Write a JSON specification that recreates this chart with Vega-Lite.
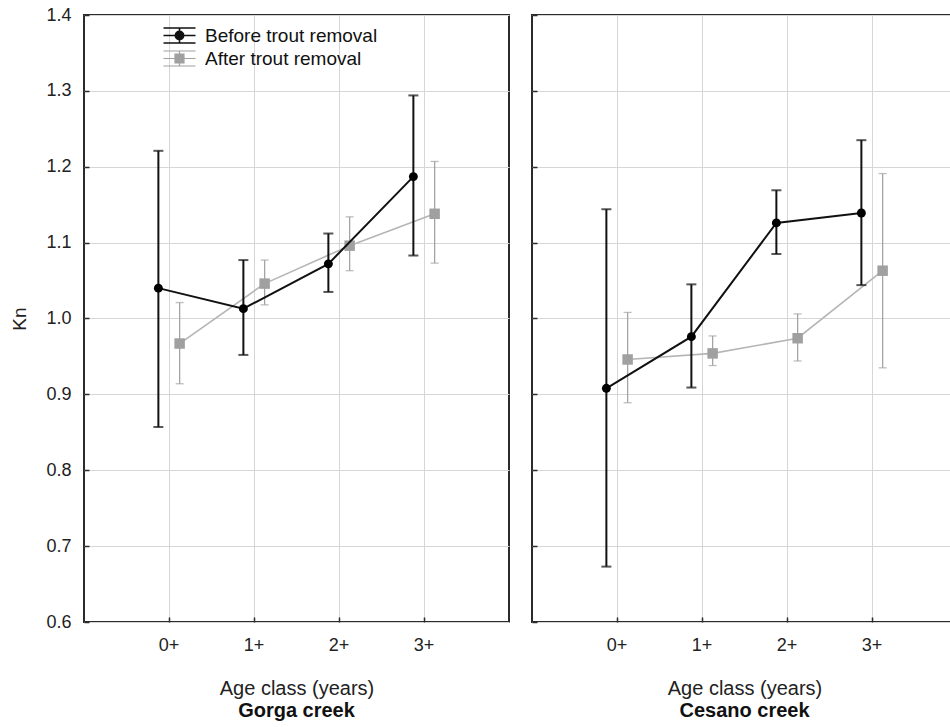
{
  "$schema": "https://vega.github.io/schema/vega-lite/v6.json",
  "padding": {"left": 9, "top": 5, "right": 0, "bottom": 0},
  "background": "white",
  "config": {
    "font": "Liberation Sans",
    "view": {"stroke": "#2b2b2b", "strokeWidth": 2},
    "axis": {"labelFont": "Liberation Sans", "titleFont": "Liberation Sans", "labelColor": "#222", "titleColor": "#222", "labelFontSize": 18, "titleFontSize": 19, "titleFontWeight": "normal", "gridColor": "#d6d6d6", "gridWidth": 1, "tickColor": "#2b2b2b", "tickWidth": 1.5, "domain": false}
  },
  "datasets": {
    "kn": [
      {"creek": "Gorga", "series": "Before trout removal", "age": "0+", "mean": 1.040, "lo": 0.857, "hi": 1.221},
      {"creek": "Gorga", "series": "Before trout removal", "age": "1+", "mean": 1.013, "lo": 0.952, "hi": 1.077},
      {"creek": "Gorga", "series": "Before trout removal", "age": "2+", "mean": 1.072, "lo": 1.035, "hi": 1.112},
      {"creek": "Gorga", "series": "Before trout removal", "age": "3+", "mean": 1.187, "lo": 1.083, "hi": 1.294},
      {"creek": "Gorga", "series": "After trout removal", "age": "0+", "mean": 0.967, "lo": 0.914, "hi": 1.021},
      {"creek": "Gorga", "series": "After trout removal", "age": "1+", "mean": 1.046, "lo": 1.018, "hi": 1.077},
      {"creek": "Gorga", "series": "After trout removal", "age": "2+", "mean": 1.096, "lo": 1.063, "hi": 1.134},
      {"creek": "Gorga", "series": "After trout removal", "age": "3+", "mean": 1.138, "lo": 1.073, "hi": 1.207},
      {"creek": "Cesano", "series": "Before trout removal", "age": "0+", "mean": 0.908, "lo": 0.673, "hi": 1.144},
      {"creek": "Cesano", "series": "Before trout removal", "age": "1+", "mean": 0.976, "lo": 0.909, "hi": 1.045},
      {"creek": "Cesano", "series": "Before trout removal", "age": "2+", "mean": 1.126, "lo": 1.085, "hi": 1.169},
      {"creek": "Cesano", "series": "Before trout removal", "age": "3+", "mean": 1.139, "lo": 1.044, "hi": 1.235},
      {"creek": "Cesano", "series": "After trout removal", "age": "0+", "mean": 0.946, "lo": 0.889, "hi": 1.008},
      {"creek": "Cesano", "series": "After trout removal", "age": "1+", "mean": 0.954, "lo": 0.938, "hi": 0.977},
      {"creek": "Cesano", "series": "After trout removal", "age": "2+", "mean": 0.974, "lo": 0.944, "hi": 1.006},
      {"creek": "Cesano", "series": "After trout removal", "age": "3+", "mean": 1.063, "lo": 0.935, "hi": 1.191}
    ]
  },
  "spacing": 23,
  "bounds": "flush",
  "hconcat": [
    {
      "width": 425,
      "height": 607,
      "title": {"text": "Gorga creek", "orient": "bottom", "fontWeight": "bold", "fontSize": 20, "font": "Liberation Sans", "color": "#111", "offset": 3},
      "data": {"name": "kn"},
      "transform": [{"filter": "datum.creek === 'Gorga'"}],
      "encoding": {
        "x": {"field": "age", "type": "ordinal", "sort": ["0+", "1+", "2+", "3+"], "scale": {"type": "band", "paddingInner": 0, "paddingOuter": 0.5},
          "axis": {"title": "Age class (years)", "titleFontSize": 20, "labelAngle": 0, "bandPosition": 0.5, "grid": true, "tickSize": -5, "labelPadding": 19, "titlePadding": 24}},
        "xOffset": {"field": "series", "type": "nominal", "sort": ["Before trout removal", "After trout removal"], "scale": {"paddingInner": 0, "paddingOuter": 2.27}},
        "y": {"field": "mean", "type": "quantitative", "title": "Kn", "scale": {"domain": [0.6, 1.4], "nice": false, "zero": false},
          "axis": {"values": [0.6, 0.7, 0.8, 0.9, 1.0, 1.1, 1.2, 1.3, 1.4], "format": ".1f", "grid": true, "tickSize": -5, "labelPadding": 18, "titlePadding": 16}}
      },
      "layer": [
        {"transform": [{"filter": "datum.series === 'After trout removal'"}], "mark": {"type": "rule", "color": "#a3a3a3", "strokeWidth": 1.3}, "encoding": {"y": {"field": "lo", "type": "quantitative", "title": "Kn"}, "y2": {"field": "hi"}}},
        {"transform": [{"filter": "datum.series === 'After trout removal'"}], "mark": {"type": "tick", "orient": "horizontal", "color": "#a3a3a3", "size": 8, "thickness": 1.3}, "encoding": {"y": {"field": "lo", "type": "quantitative", "title": "Kn"}}},
        {"transform": [{"filter": "datum.series === 'After trout removal'"}], "mark": {"type": "tick", "orient": "horizontal", "color": "#a3a3a3", "size": 8, "thickness": 1.3}, "encoding": {"y": {"field": "hi", "type": "quantitative", "title": "Kn"}}},
        {"transform": [{"filter": "datum.series === 'After trout removal'"}], "mark": {"type": "line", "color": "#b5b5b5", "strokeWidth": 1.6}, "encoding": {"order": {"field": "age"}}},
        {"transform": [{"filter": "datum.series === 'After trout removal'"}], "mark": {"type": "point", "shape": "square", "filled": true, "color": "#a0a0a0", "opacity": 1, "size": 110}},
        {"transform": [{"filter": "datum.series === 'Before trout removal'"}], "mark": {"type": "rule", "color": "#111", "strokeWidth": 2}, "encoding": {"y": {"field": "lo", "type": "quantitative", "title": "Kn"}, "y2": {"field": "hi"}}},
        {"transform": [{"filter": "datum.series === 'Before trout removal'"}], "mark": {"type": "tick", "orient": "horizontal", "color": "#111", "size": 10, "thickness": 2}, "encoding": {"y": {"field": "lo", "type": "quantitative", "title": "Kn"}}},
        {"transform": [{"filter": "datum.series === 'Before trout removal'"}], "mark": {"type": "tick", "orient": "horizontal", "color": "#111", "size": 10, "thickness": 2}, "encoding": {"y": {"field": "hi", "type": "quantitative", "title": "Kn"}}},
        {"transform": [{"filter": "datum.series === 'Before trout removal'"}], "mark": {"type": "line", "color": "#111", "strokeWidth": 2}, "encoding": {"order": {"field": "age"}}},
        {"transform": [{"filter": "datum.series === 'Before trout removal'"}], "mark": {"type": "point", "shape": "circle", "filled": true, "color": "#000", "opacity": 1, "size": 80}},
        {
          "mark": {"type": "point", "filled": true, "opacity": 0},
          "encoding": {
            "color": {"field": "series", "type": "nominal", "sort": ["Before trout removal", "After trout removal"],
              "scale": {"domain": ["Before trout removal", "After trout removal"], "range": ["#111111", "#a0a0a0"]},
              "legend": {"orient": "none", "legendX": 86, "legendY": 11, "title": null, "padding": 0, "labelFontSize": 19, "labelFont": "Liberation Sans", "labelColor": "#111", "labelOffset": 16, "labelLimit": 0, "symbolSize": 1024, "symbolStrokeWidth": 1.5, "symbolOpacity": 1, "rowPadding": 1,
                "encode": {"symbols": {"update": {"stroke": {"signal": "datum.value === 'Before trout removal' ? '#111' : '#a0a0a0'"}, "opacity": {"value": 1}, "strokeWidth": {"signal": "datum.value === 'Before trout removal' ? 1.6 : 1.2"}}}}}},
            "shape": {"field": "series", "type": "nominal", "sort": ["Before trout removal", "After trout removal"],
              "scale": {"domain": ["Before trout removal", "After trout removal"], "range": [
                "M-1,-0.47H1M-1,0H1M-1,0.47H1M0,-0.47V0.47M-0.26,0A0.26,0.26 0 1,0 0.26,0A0.26,0.26 0 1,0 -0.26,0Z",
                "M-1,-0.47H1M-1,0H1M-1,0.47H1M0,-0.47V0.47M-0.28,-0.28H0.28V0.28H-0.28Z"]},
              "legend": {"orient": "none", "legendX": 86, "legendY": 11, "title": null, "labelLimit": 0}}
          }
        }
      ]
    },
    {
      "width": 425,
      "height": 607,
      "title": {"text": "Cesano creek", "orient": "bottom", "fontWeight": "bold", "fontSize": 20, "font": "Liberation Sans", "color": "#111", "offset": 3},
      "data": {"name": "kn"},
      "transform": [{"filter": "datum.creek === 'Cesano'"}],
      "encoding": {
        "x": {"field": "age", "type": "ordinal", "sort": ["0+", "1+", "2+", "3+"], "scale": {"type": "band", "paddingInner": 0, "paddingOuter": 0.5},
          "axis": {"title": "Age class (years)", "titleFontSize": 20, "labelAngle": 0, "bandPosition": 0.5, "grid": true, "tickSize": -5, "labelPadding": 19, "titlePadding": 24}},
        "xOffset": {"field": "series", "type": "nominal", "sort": ["Before trout removal", "After trout removal"], "scale": {"paddingInner": 0, "paddingOuter": 2.27}},
        "y": {"field": "mean", "type": "quantitative", "title": null, "scale": {"domain": [0.6, 1.4], "nice": false, "zero": false},
          "axis": {"values": [0.6, 0.7, 0.8, 0.9, 1.0, 1.1, 1.2, 1.3, 1.4], "labels": false, "grid": true, "tickSize": -5}}
      },
      "layer": [
        {"transform": [{"filter": "datum.series === 'After trout removal'"}], "mark": {"type": "rule", "color": "#a3a3a3", "strokeWidth": 1.3}, "encoding": {"y": {"field": "lo", "type": "quantitative", "title": null}, "y2": {"field": "hi"}}},
        {"transform": [{"filter": "datum.series === 'After trout removal'"}], "mark": {"type": "tick", "orient": "horizontal", "color": "#a3a3a3", "size": 8, "thickness": 1.3}, "encoding": {"y": {"field": "lo", "type": "quantitative", "title": null}}},
        {"transform": [{"filter": "datum.series === 'After trout removal'"}], "mark": {"type": "tick", "orient": "horizontal", "color": "#a3a3a3", "size": 8, "thickness": 1.3}, "encoding": {"y": {"field": "hi", "type": "quantitative", "title": null}}},
        {"transform": [{"filter": "datum.series === 'After trout removal'"}], "mark": {"type": "line", "color": "#b5b5b5", "strokeWidth": 1.6}, "encoding": {"order": {"field": "age"}}},
        {"transform": [{"filter": "datum.series === 'After trout removal'"}], "mark": {"type": "point", "shape": "square", "filled": true, "color": "#a0a0a0", "opacity": 1, "size": 110}},
        {"transform": [{"filter": "datum.series === 'Before trout removal'"}], "mark": {"type": "rule", "color": "#111", "strokeWidth": 2}, "encoding": {"y": {"field": "lo", "type": "quantitative", "title": null}, "y2": {"field": "hi"}}},
        {"transform": [{"filter": "datum.series === 'Before trout removal'"}], "mark": {"type": "tick", "orient": "horizontal", "color": "#111", "size": 10, "thickness": 2}, "encoding": {"y": {"field": "lo", "type": "quantitative", "title": null}}},
        {"transform": [{"filter": "datum.series === 'Before trout removal'"}], "mark": {"type": "tick", "orient": "horizontal", "color": "#111", "size": 10, "thickness": 2}, "encoding": {"y": {"field": "hi", "type": "quantitative", "title": null}}},
        {"transform": [{"filter": "datum.series === 'Before trout removal'"}], "mark": {"type": "line", "color": "#111", "strokeWidth": 2}, "encoding": {"order": {"field": "age"}}},
        {"transform": [{"filter": "datum.series === 'Before trout removal'"}], "mark": {"type": "point", "shape": "circle", "filled": true, "color": "#000", "opacity": 1, "size": 80}}
      ]
    }
  ]
}
